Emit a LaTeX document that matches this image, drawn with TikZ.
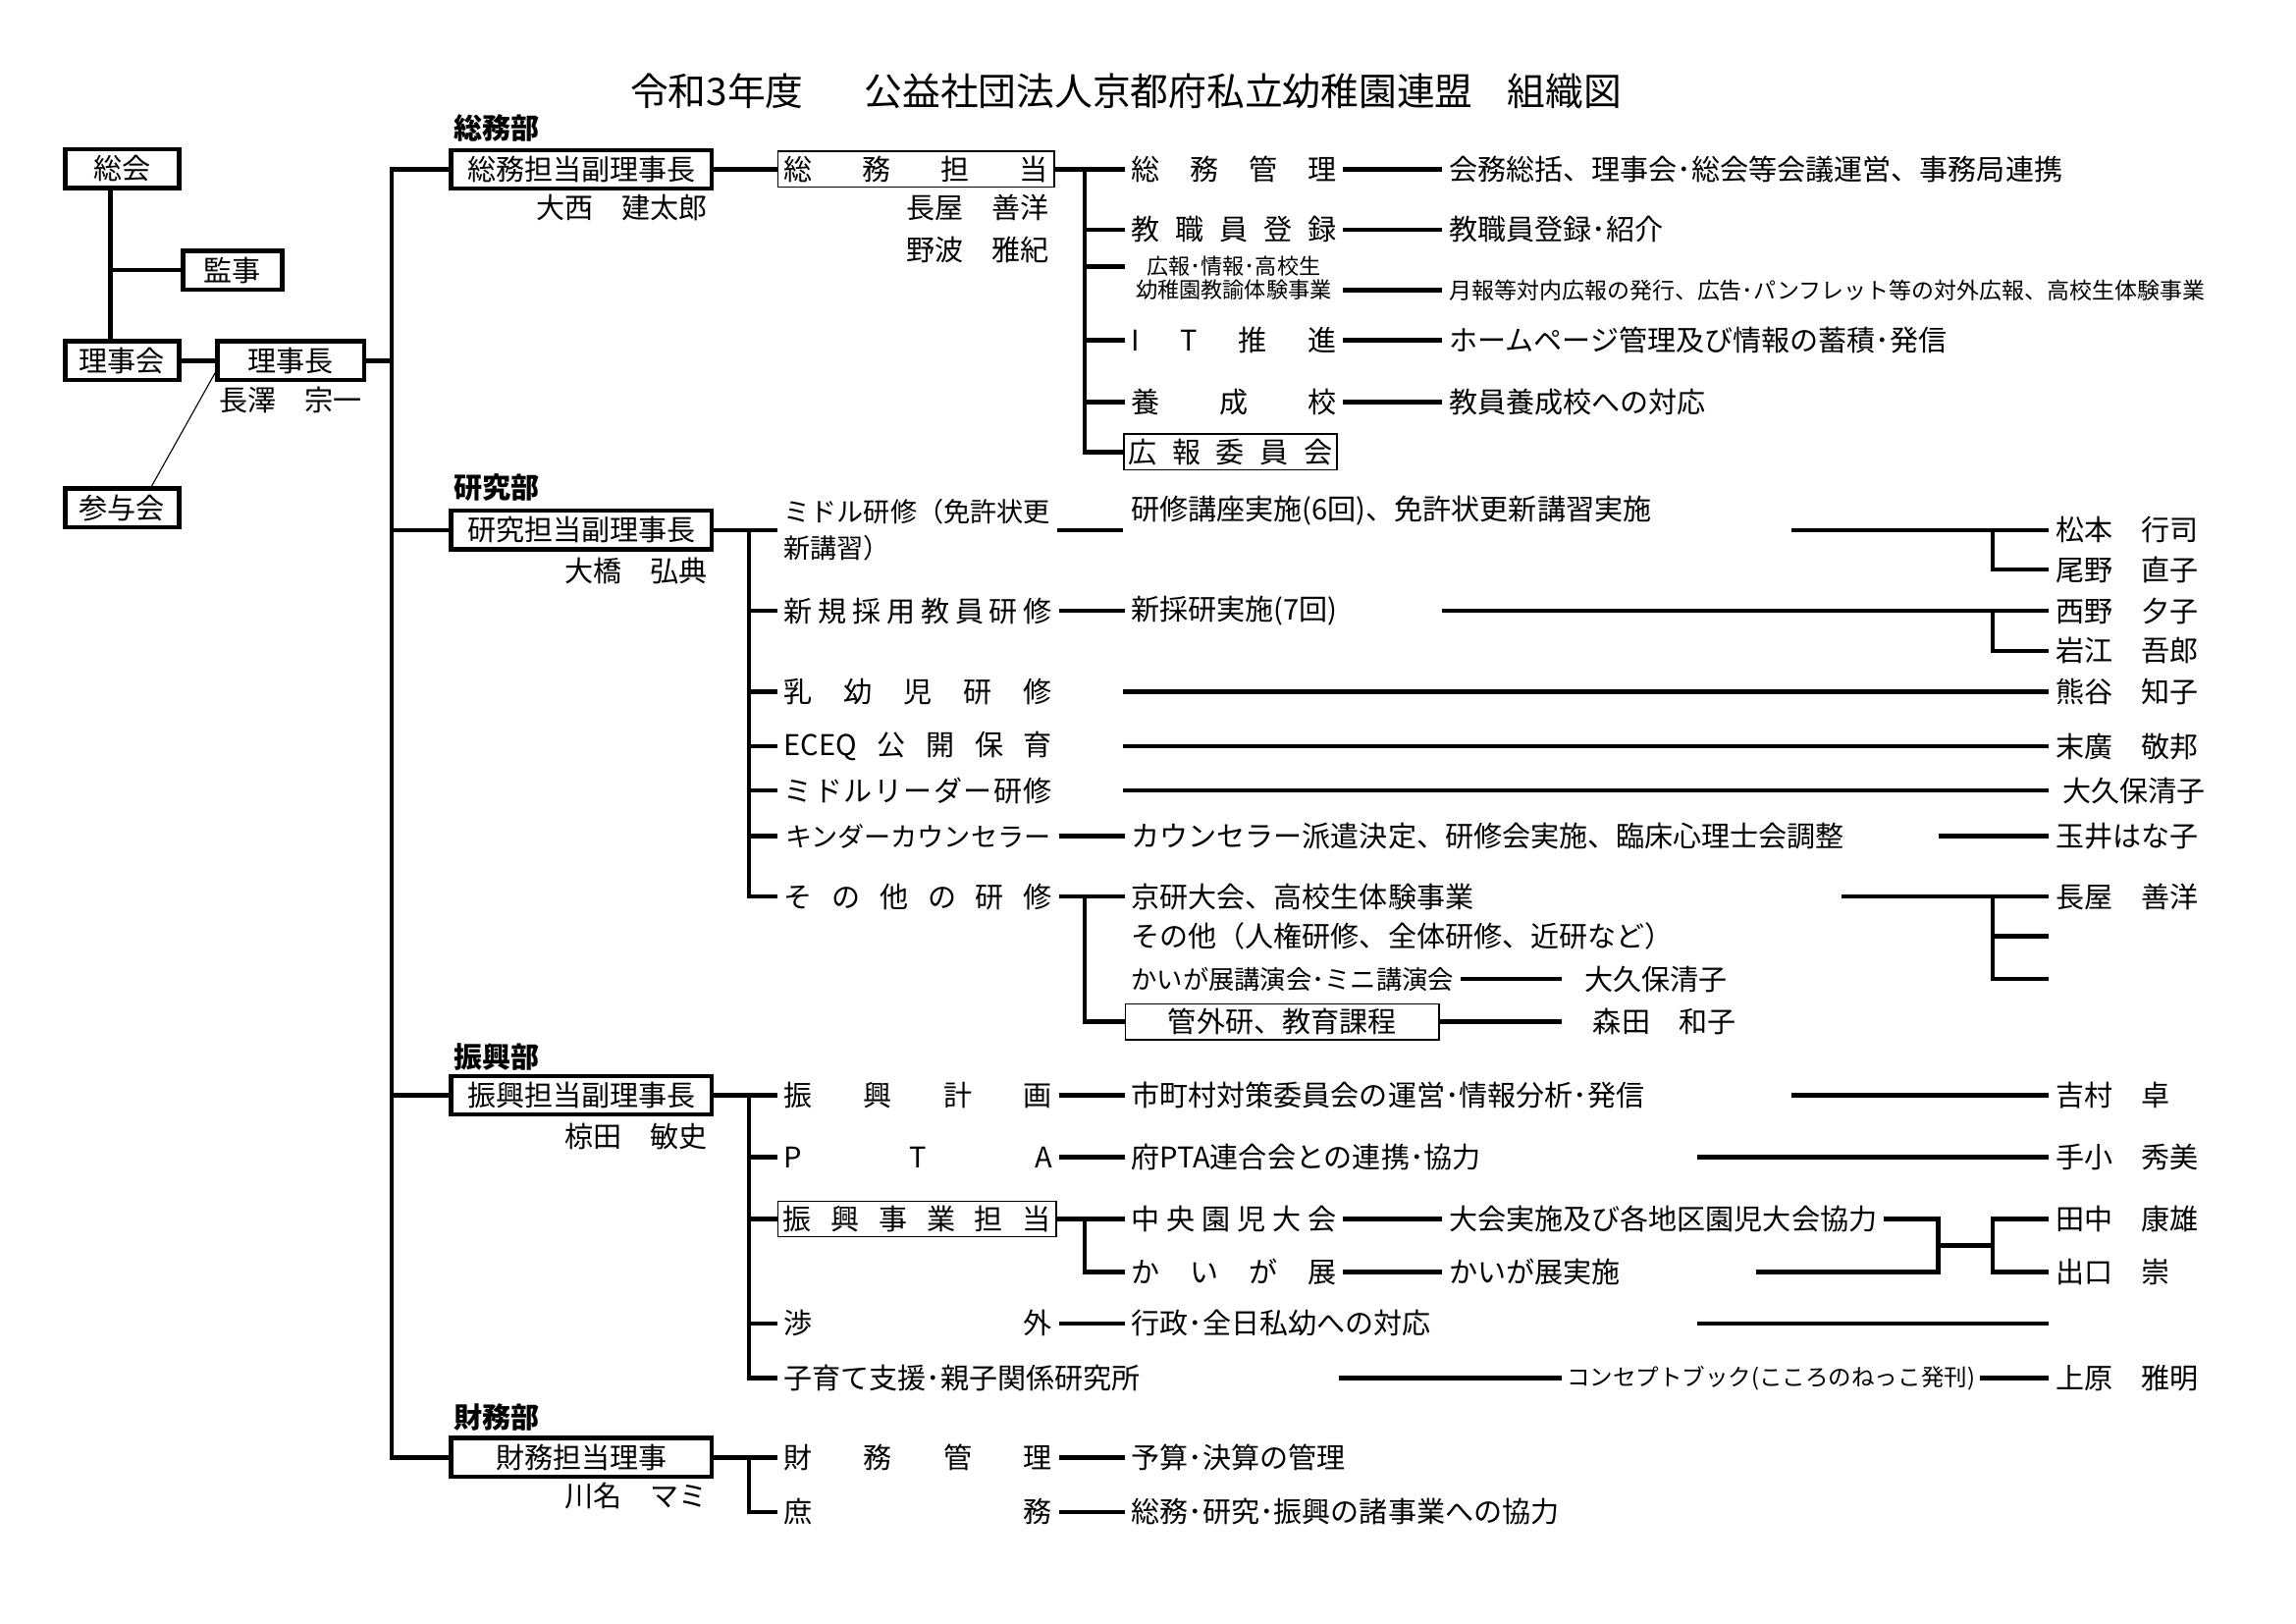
\documentclass[tikz,border=0pt]{standalone}
\usepackage{fontspec}
\setmainfont{Noto Sans CJK JP}
\usetikzlibrary{calc}

\newcommand{\colA}[1]{\makebox[34.7mm]{#1}}
\newcommand{\colB}[1]{\makebox[26.5mm]{#1}}

\begin{document}
\begin{tikzpicture}[x=0.1904mm, y=-0.1904mm, line width=1.6pt,
    every node/.style={font=\fontsize{10.5}{13.5}\selectfont, inner sep=0pt}]
    % Styles
    \tikzstyle{bigbox} = [draw, line width=1.6pt, minimum height=5mm]
    \tikzstyle{thinbox} = [draw, line width=0.6pt, minimum height=4.6mm]
    \tikzstyle{itemtext} = [anchor=west, inner xsep=0.6mm]
    \tikzstyle{person} = [anchor=west, inner xsep=0.6mm]
    \tikzstyle{deptlabel} = [anchor=west, font=\fontsize{10.5}{13.5}\selectfont\bfseries]

    \useasboundingbox (0,0) rectangle (1560,1103);

    % Title
    \node[font=\fontsize{14}{16}\selectfont] (title) at (765,62) {令和3年度\hspace{1.6em}公益社団法人京都府私立幼稚園連盟\hspace{0.9em}組織図};

    % Left column (総会, 監事, 理事会, 理事長, 参与会)
    \node[bigbox, minimum width=14.7mm] (sokai) at (83,114.5) {総会};
    \node[bigbox, minimum width=12.8mm] (kanji) at (158,183.5) {監事};
    \node[bigbox, minimum width=14.7mm] (rijikai) at (83,245) {理事会};
    \node[bigbox, minimum width=19mm] (rijicho) at (197.5,245) {理事長};
    \node (nagasawa) at (197.5,272) {長澤　宗一};
    \node[bigbox, minimum width=14.7mm] (sanyo) at (83,345) {参与会};

    \coordinate (lv) at (75,0);
    \draw (sokai.south -| lv) -- (rijikai.north -| lv);
    \draw (lv |- kanji.west) -- (kanji.west);
    \draw (rijikai.east) -- (rijicho.west);
    \draw[line width=0.4pt] ([yshift=1.2mm]rijicho.south west) -- ([xshift=3.8mm]sanyo.north);

    % Department boxes at x=395
    \node[deptlabel] (soumuhd) at (307,87) {総務部};
    \node[bigbox, minimum width=33.7mm] (soumu) at (395,115) {総務担当副理事長};
    \node[anchor=east] (onishi) at (482,141) {大西　建太郎};

    \node[deptlabel] (kenkyuhd) at (307,331) {研究部};
    \node[bigbox, minimum width=33.7mm] (kenkyu) at (395,360) {研究担当副理事長};
    \node[anchor=east] (ohashi) at (482,388) {大橋　弘典};

    \node[deptlabel] (shinkohd) at (307,718) {振興部};
    \node[bigbox, minimum width=33.7mm] (shinko) at (395,744) {振興担当副理事長};
    \node[anchor=east] (mukuda) at (482,772) {椋田　敏史};

    \node[deptlabel] (zaimuhd) at (307,963) {財務部};
    \node[bigbox, minimum width=33.7mm] (zaimu) at (395,990) {財務担当理事};
    \node[anchor=east] (kawana) at (482,1016) {川名　マミ};

    % Main trunk
    \coordinate (trunk) at (266,0);
    \draw (rijicho.east) -- (rijicho.east -| trunk);
    \draw (soumu.west) -- (soumu.west -| trunk) -- (zaimu.west -| trunk) -- (zaimu.west);
    \draw (trunk |- kenkyu.west) -- (kenkyu.west);
    \draw (trunk |- shinko.west) -- (shinko.west);

    % Column coordinates
    \coordinate (sv1) at (737,0);
    \coordinate (sv2) at (509,0);
    \coordinate (dc) at (763,0);
    \coordinate (nc) at (1392,0);
    \coordinate (bx) at (1354,0);
    \coordinate (kj) at (1317,0);

    % 総務部
    \node[thinbox, minimum width=35.8mm] (soumutan) at (622.5,115) {\makebox[34.2mm]{総\hfill 務\hfill 担\hfill 当}};
    \draw (soumu.east) -- (soumutan.west);
    \node[anchor=east] (nagaya) at (714,141) {長屋　善洋};
    \node[anchor=east] (nonami) at (714,170) {野波　雅紀};

    \node[itemtext] (kanri) at (764,115) {\colB{総\hfill 務\hfill 管\hfill 理}};
    \node[itemtext] (toroku) at (764,156) {\colB{教\hfill 職\hfill 員\hfill 登\hfill 録}};
    \node[itemtext, font=\fontsize{8}{9.5}\selectfont] (kohoa) at (764,181) {\colB{\hfill 広報･情報･高校生\hfill}};
    \node[itemtext, font=\fontsize{8}{9.5}\selectfont] (kohob) at (764,197) {\colB{\hfill 幼稚園教諭体験事業\hfill}};
    \node[itemtext] (it) at (764,231) {\colB{I\hfill T\hfill 推\hfill 進}};
    \node[itemtext] (yosei) at (764,273) {\colB{養\hfill 成\hfill 校}};
    \node[thinbox, minimum width=27.6mm, anchor=west] (kohoiin) at (763,307) {\makebox[26.5mm]{広\hfill 報\hfill 委\hfill 員\hfill 会}};

    \draw (soumutan.east) -- (kanri.west);
    \draw (sv1 |- kanri.west) -- (sv1 |- kohoiin.west) -- (kohoiin.west);
    \draw (sv1 |- toroku.west) -- (toroku.west);
    \draw (sv1 |- kohoa.west) -- (kohoa.west);
    \draw (sv1 |- it.west) -- (it.west);
    \draw (sv1 |- yosei.west) -- (yosei.west);

    \node[itemtext] (kaimu) at (980,115) {会務総括、理事会･総会等会議運営、事務局連携};
    \node[itemtext] (shokai) at (980,156) {教職員登録･紹介};
    \node[itemtext, font=\fontsize{8.3}{10}\selectfont] (geppo) at (980,197) {月報等対内広報の発行、広告･パンフレット等の対外広報、高校生体験事業};
    \node[itemtext] (hp) at (980,231) {ホームページ管理及び情報の蓄積･発信};
    \node[itemtext] (taio) at (980,273) {教員養成校への対応};
    \draw (kanri.east) -- (kaimu.west);
    \draw (toroku.east) -- (shokai.west);
    \draw (kohob.east) -- (geppo.west);
    \draw (it.east) -- (hp.west);
    \draw (yosei.east) -- (taio.west);

    % 研究部
    \node[itemtext, align=left, font=\fontsize{9.8}{13.5}\selectfont] (middle) at (528,360) {ミドル研修（免許状更\\新講習）};
    \node[itemtext] (shinki) at (528,415) {\colA{新\hfill 規\hfill 採\hfill 用\hfill 教\hfill 員\hfill 研\hfill 修}};
    \node[itemtext] (nyuyoji) at (528,470) {\colA{乳\hfill 幼\hfill 児\hfill 研\hfill 修}};
    \node[itemtext] (eceq) at (528,507) {\colA{ECEQ\hfill 公\hfill 開\hfill 保\hfill 育}};
    \node[itemtext] (leader) at (528,537) {\colA{ミ\hfill ド\hfill ル\hfill リ\hfill ー\hfill ダ\hfill ー\hfill 研\hfill 修}};
    \node[itemtext, font=\fontsize{9.8}{12}\selectfont] (kinder) at (528,568) {\colA{キンダーカウンセラー}};
    \node[itemtext] (sonota) at (528,609) {\colA{そ\hfill の\hfill 他\hfill の\hfill 研\hfill 修}};

    \draw (kenkyu.east) -- (middle.west);
    \draw (sv2 |- middle.west) -- (sv2 |- sonota.west) -- (sonota.west);
    \foreach \n in {shinki,nyuyoji,eceq,leader,kinder}
        \draw (sv2 |- \n.west) -- (\n.west);

    \node[itemtext] (koza) at (764,347) {研修講座実施(6回)、免許状更新講習実施};
    \draw (middle.east) -- (dc |- middle.east);
    \node[person] (matsumoto) at (1392,360) {松本　行司};
    \node[person] (ono) at (1392,387) {尾野　直子};
    \coordinate (m1) at (1217,360);
    \draw (m1) -- (matsumoto.west);
    \draw (bx |- matsumoto.west) |- (ono.west);

    \node[itemtext] (shinsai) at (764,415) {新採研実施(7回)};
    \draw (shinki.east) -- (shinsai.west);
    \node[person] (nishino) at (1392,415) {西野　夕子};
    \node[person] (iwae) at (1392,442) {岩江　吾郎};
    \coordinate (m2) at (980,415);
    \draw (m2) -- (nishino.west);
    \draw (bx |- nishino.west) |- (iwae.west);

    \node[person] (kumagai) at (1392,470) {熊谷　知子};
    \draw (dc |- nyuyoji.east) -- (kumagai.west);
    \node[person] (suehiro) at (1392,507) {末廣　敬邦};
    \draw (dc |- eceq.east) -- (suehiro.west);
    \node[person, inner xsep=1.5mm] (okubo) at (1392,537) {大久保清子};
    \draw (dc |- leader.east) -- (okubo.west);

    \node[itemtext] (haken) at (764,568) {カウンセラー派遣決定、研修会実施、臨床心理士会調整};
    \draw (kinder.east) -- (haken.west);
    \node[person] (tamai) at (1392,568) {玉井はな子};
    \coordinate (m3) at (1317,568);
    \draw (m3) -- (tamai.west);

    % その他の研修
    \node[itemtext] (kyoken) at (764,609) {京研大会、高校生体験事業};
    \node[itemtext] (jinken) at (764,636) {その他（人権研修、全体研修、近研など）};
    \node[itemtext, font=\fontsize{9.5}{11}\selectfont] (kaigakoen) at (764,665) {かいが展講演会･ミニ講演会};
    \node[thinbox, minimum width=40.6mm, anchor=west] (kangai) at (764,694) {管外研、教育課程};
    \draw (sonota.east) -- (kyoken.west);
    \draw (sv1 |- kyoken.west) |- (kangai.west);

    \node[person, inner xsep=2.7mm] (okubo2) at (1061,665) {大久保清子};
    \draw (kaigakoen.east) -- (okubo2.west);
    \node[person, inner xsep=3.8mm] (morita) at (1061,694) {森田　和子};
    \draw (kangai.east) -- (morita.west);

    \node[person] (nagaya2) at (1392,609) {長屋　善洋};
    \coordinate (m4) at (1251,609);
    \draw (m4) -- (nagaya2.west);
    \draw (bx |- nagaya2.west) |- (nc |- kaigakoen.west);
    \draw (bx |- jinken.west) -- (nc |- jinken.west);

    % 振興部
    \node[itemtext] (keikaku) at (528,744) {\colA{振\hfill 興\hfill 計\hfill 画}};
    \node[itemtext] (pta) at (528,786) {\colA{P\hfill T\hfill A}};
    \node[thinbox, minimum width=36mm, anchor=west] (jigyo) at (528,828) {\makebox[34.7mm]{振\hfill 興\hfill 事\hfill 業\hfill 担\hfill 当}};
    \node[itemtext] (shogai) at (528,899) {\colA{渉\hfill 外}};
    \node[itemtext] (kosodate) at (528,936) {子育て支援･親子関係研究所};

    \draw (shinko.east) -- (keikaku.west);
    \draw (sv2 |- keikaku.west) -- (sv2 |- kosodate.west) -- (kosodate.west);
    \foreach \n in {pta,jigyo,shogai}
        \draw (sv2 |- \n.west) -- (\n.west);

    \node[itemtext] (shichoson) at (764,744) {市町村対策委員会の運営･情報分析･発信};
    \draw (keikaku.east) -- (shichoson.west);
    \node[person] (yoshimura) at (1392,744) {吉村　卓};
    \coordinate (m5) at (1217,744);
    \draw (m5) -- (yoshimura.west);

    \node[itemtext] (fupta) at (764,786) {府PTA連合会との連携･協力};
    \draw (pta.east) -- (fupta.west);
    \node[person] (teko) at (1392,786) {手小　秀美};
    \coordinate (m6) at (1153,786);
    \draw (m6) -- (teko.west);

    % 振興事業担当
    \node[itemtext] (chuo) at (764,828) {\colB{中\hfill 央\hfill 園\hfill 児\hfill 大\hfill 会}};
    \node[itemtext] (kaigaten) at (764,864) {\colB{か\hfill い\hfill が\hfill 展}};
    \draw (jigyo.east) -- (chuo.west);
    \draw (sv1 |- chuo.west) |- (kaigaten.west);

    \node[itemtext] (taikai) at (980,828) {大会実施及び各地区園児大会協力};
    \node[itemtext] (jisshi) at (980,864) {かいが展実施};
    \draw (chuo.east) -- (taikai.west);
    \draw (kaigaten.east) -- (jisshi.west);

    \node[person] (tanaka) at (1392,828) {田中　康雄};
    \node[person] (deguchi) at (1392,864) {出口　崇};
    \coordinate (m7) at (1193,864);
    \coordinate (kmid) at (1317,846);
    \draw (taikai.east) -| (kj |- m7) -- (m7);
    \draw (kmid) -- (kmid -| bx);
    \draw (tanaka.west) -| (bx |- deguchi.west) -- (deguchi.west);

    \node[itemtext] (gyosei) at (764,899) {行政･全日私幼への対応};
    \draw (shogai.east) -- (gyosei.west);
    \coordinate (m8) at (1153,899);
    \draw (m8) -- (nc |- m8);

    \coordinate (m9) at (910,936);
    \node[itemtext, font=\fontsize{8.5}{10}\selectfont, inner xsep=0.4mm] (concept) at (1061,936) {コンセプトブック(こころのねっこ発刊)};
    \draw (m9) -- (concept.west);
    \node[person] (uehara) at (1392,936) {上原　雅明};
    \draw (concept.east) -- (uehara.west);

    % 財務部
    \node[itemtext] (zkanri) at (528,990) {\colA{財\hfill 務\hfill 管\hfill 理}};
    \node[itemtext] (shomu) at (528,1027) {\colA{庶\hfill 務}};
    \draw (zaimu.east) -- (zkanri.west);
    \draw (sv2 |- zkanri.west) |- (shomu.west);

    \node[itemtext] (yosan) at (764,990) {予算･決算の管理};
    \node[itemtext] (kyoryoku) at (764,1027) {総務･研究･振興の諸事業への協力};
    \draw (zkanri.east) -- (yosan.west);
    \draw (shomu.east) -- (kyoryoku.west);
\end{tikzpicture}
\end{document}
